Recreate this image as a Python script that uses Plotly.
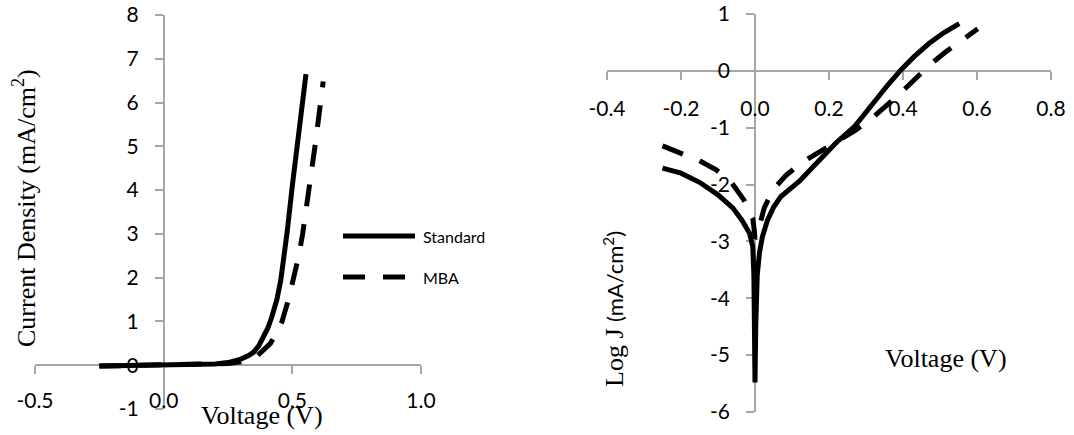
import plotly.graph_objects as go

# ---------------- data ----------------
# Left panel: current density vs voltage
std_v = [-0.25, -0.20, -0.10, 0.00, 0.10, 0.20, 0.25, 0.28, 0.30, 0.33, 0.35, 0.37,
         0.39, 0.405, 0.42, 0.44, 0.455, 0.468, 0.48, 0.50, 0.52, 0.54, 0.553]
std_j = [-0.02, -0.015, -0.01, 0.00, 0.01, 0.03, 0.06, 0.10, 0.14, 0.22, 0.30, 0.45,
         0.65, 0.85, 1.10, 1.50, 1.94, 2.50, 3.05, 4.10, 5.05, 6.00, 6.65]
mba_v = [-0.25, -0.20, -0.10, 0.00, 0.10, 0.20, 0.25, 0.30, 0.33, 0.365, 0.39, 0.415,
         0.44, 0.46, 0.485, 0.507, 0.525, 0.54, 0.553, 0.565, 0.577, 0.588, 0.599,
         0.61, 0.62]
mba_j = [-0.02, -0.015, -0.01, 0.00, 0.005, 0.02, 0.04, 0.08, 0.13, 0.22, 0.35, 0.50,
         0.75, 1.00, 1.50, 2.00, 2.50, 3.00, 3.50, 4.00, 4.50, 5.00, 5.50,
         6.00, 6.48]

# Right panel: log J vs voltage
std_log_v = [-0.25, -0.20, -0.15, -0.10, -0.06, -0.035, -0.015, -0.006, -0.003, -0.001,
             0.0, 0.002, 0.006, 0.012, 0.02, 0.034, 0.05, 0.07, 0.10, 0.12, 0.17,
             0.22, 0.27, 0.31, 0.36, 0.395, 0.43, 0.47, 0.51, 0.552]
std_log_j = [-1.71, -1.80, -1.96, -2.18, -2.41, -2.63, -2.85, -3.09, -3.60, -4.50,
             -5.48, -4.50, -3.60, -3.20, -2.92, -2.62, -2.40, -2.21, -2.04, -1.94, -1.60,
             -1.26, -0.97, -0.64, -0.24, 0.02, 0.25, 0.48, 0.67, 0.83]
mba_log_v = [-0.25, -0.20, -0.15, -0.105, -0.065, -0.03, -0.015, -0.006, -0.002, 0.0,
             0.005, 0.012, 0.025, 0.05, 0.085, 0.13, 0.175, 0.225, 0.27, 0.315,
             0.355, 0.395, 0.435, 0.475, 0.515, 0.56, 0.602]
mba_log_j = [-1.32, -1.45, -1.58, -1.74, -1.95, -2.27, -2.45, -2.60, -2.80, -2.95,
             -2.90, -2.74, -2.41, -2.08, -1.83, -1.60, -1.42, -1.21, -1.05, -0.84,
             -0.62, -0.38, -0.13, 0.12, 0.33, 0.55, 0.74]

series_names = ["Standard", "MBA"]

# tick values / labels
lx_ticks = [-0.5, 0.0, 0.5, 1.0]
lx_labels = ["-0.5", "0.0", "0.5", "1.0"]
ly_ticks = [-1, 0, 1, 2, 3, 4, 5, 6, 7, 8]
ly_labels = ["-1", "0", "1", "2", "3", "4", "5", "6", "7", "8"]
rx_ticks = [-0.4, -0.2, 0.0, 0.2, 0.4, 0.6, 0.8]
rx_labels = ["-0.4", "-0.2", "0.0", "0.2", "0.4", "0.6", "0.8"]
ry_ticks = [-6, -5, -4, -3, -2, -1, 0, 1]
ry_labels = ["-6", "-5", "-4", "-3", "-2", "-1", "0", "1"]

lx_range = [-0.5, 1.0]
ly_range = [-1, 8]
rx_range = [-0.4, 0.8]
ry_range = [-6, 1]

# ---------------- layout geometry ----------------
W, H = 1074, 435
L_xdom = [35 / W, 421 / W]
L_ydom = [1 - 409 / H, 1 - 15 / H]
R_xdom = [607 / W, 1051 / W]
R_ydom = [1 - 412 / H, 1 - 14 / H]


def frac(val, rng, dom):
    return dom[0] + (val - rng[0]) / (rng[1] - rng[0]) * (dom[1] - dom[0])


AX_COL = "#a6a6a6"
TICK_FONT = dict(family="Lato", size=21, color="black")
SERIF = "Liberation Serif"
LW = 5
DASH = "22px,18px"

fig = go.Figure()
fig.add_trace(go.Scatter(x=std_v, y=std_j, mode="lines", name=series_names[0],
                         line=dict(color="black", width=LW), xaxis="x", yaxis="y",
                         showlegend=False))
fig.add_trace(go.Scatter(x=mba_v, y=mba_j, mode="lines", name=series_names[1],
                         line=dict(color="black", width=LW, dash=DASH), xaxis="x", yaxis="y",
                         showlegend=False))
fig.add_trace(go.Scatter(x=std_log_v, y=std_log_j, mode="lines", name=series_names[0],
                         line=dict(color="black", width=LW), xaxis="x2", yaxis="y2",
                         showlegend=False))
fig.add_trace(go.Scatter(x=mba_log_v, y=mba_log_j, mode="lines", name=series_names[1],
                         line=dict(color="black", width=LW, dash=DASH), xaxis="x2", yaxis="y2",
                         showlegend=False))

common = dict(showgrid=False, zeroline=False, showline=True, linecolor=AX_COL, linewidth=1.5,
              ticks="outside", ticklen=8, tickcolor=AX_COL, tickwidth=1.5,
              tickfont=TICK_FONT, layer="below traces", fixedrange=True, automargin=False)

fig.update_layout(
    width=W, height=H,
    margin=dict(l=0, r=0, t=0, b=0, pad=0),
    paper_bgcolor="white", plot_bgcolor="white",
    xaxis=dict(domain=L_xdom, range=lx_range, tickmode="array", tickvals=lx_ticks,
               ticktext=lx_labels, anchor="free",
               position=frac(0, ly_range, L_ydom), ticklabelstandoff=9, **common),
    yaxis=dict(domain=L_ydom, range=ly_range, tickmode="array", tickvals=ly_ticks,
               ticktext=ly_labels, anchor="free",
               position=frac(0, lx_range, L_xdom), ticklabelstandoff=12, **common),
    xaxis2=dict(domain=R_xdom, range=rx_range, tickmode="array", tickvals=rx_ticks,
                ticktext=rx_labels, anchor="free",
                position=frac(0, ry_range, R_ydom), ticklabelstandoff=11, **common),
    yaxis2=dict(domain=R_ydom, range=ry_range, tickmode="array", tickvals=ry_ticks,
                ticktext=ry_labels, anchor="free",
                position=frac(0, rx_range, R_xdom), ticklabelstandoff=12, **common),
)

# axis titles (centre-anchored)
title_font = dict(family=SERIF, size=26, color="black")
fig.add_annotation(text="Current Density (mA/cm<sup>2</sup>)", xref="paper", yref="paper",
                   x=24 / W, y=1 - 208 / H, textangle=-90, showarrow=False,
                   xanchor="center", yanchor="middle", font=title_font)
fig.add_annotation(text="Voltage (V)", xref="paper", yref="paper",
                   x=262 / W, y=1 - 415 / H, showarrow=False,
                   xanchor="center", yanchor="middle", font=title_font)
fig.add_annotation(text="Log J <span style='font-family:Lato;font-size:22px'>(mA/cm<sup>2</sup>)</span>",
                   xref="paper", yref="paper",
                   x=614 / W, y=1 - 309 / H, textangle=-90, showarrow=False,
                   xanchor="center", yanchor="middle", font=title_font)
fig.add_annotation(text="Voltage (V)", xref="paper", yref="paper",
                   x=946 / W, y=1 - 358 / H, showarrow=False,
                   xanchor="center", yanchor="middle", font=title_font)

# legend (drawn as sample lines + labels)
leg_x0, leg_x1, leg_tx = 343 / W, 415 / W, 421 / W
leg_rows = [1 - 236 / H, 1 - 277 / H]
for name, yy, dash in zip(series_names, leg_rows, ["solid", DASH]):
    fig.add_shape(type="line", xref="paper", yref="paper", x0=leg_x0, x1=leg_x1, y0=yy, y1=yy,
                  line=dict(color="black", width=LW, dash=dash))
    fig.add_annotation(text=name, xref="paper", yref="paper", x=leg_tx, y=yy,
                       xanchor="left", yanchor="middle", showarrow=False,
                       font=dict(family="Lato", size=16, color="black"))

fig.write_html("out.html")
